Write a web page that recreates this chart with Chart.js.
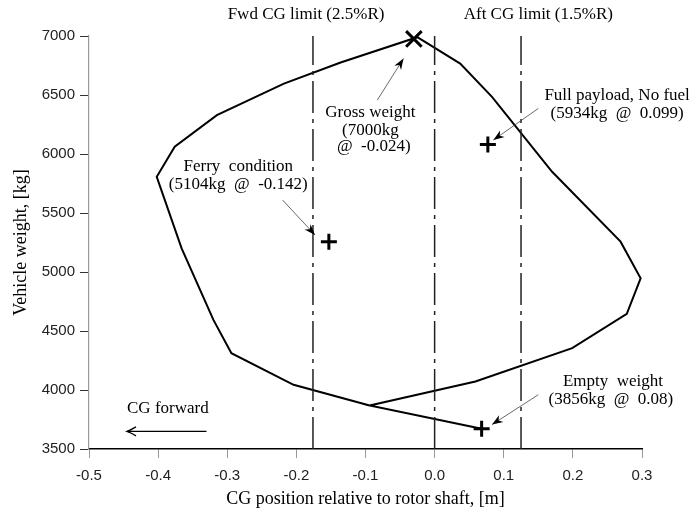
<!DOCTYPE html>
<html>
<head>
<meta charset="utf-8">
<script src="https://cdn.jsdelivr.net/npm/chart.js@4.4.1/dist/chart.umd.min.js"></script>
<style>
  html, body { margin: 0; padding: 0; background: #fff; }
  #wrap { width: 696px; height: 513px; }
</style>
</head>
<body>
<div id="wrap"><canvas id="myChart" width="696" height="513"></canvas></div>
<script>
// envelope of CG position vs weight (polyline, starts at empty weight)
var envX = [0.068, -0.094, 0.059, 0.199, 0.278, 0.298, 0.269, 0.170, 0.083, 0.037, -0.025, -0.136, -0.218, -0.315, -0.376, -0.402, -0.366, -0.320, -0.294, -0.204, -0.094];
var envY = [3672, 3869, 4072, 4355, 4645, 4947, 5257, 5849, 6484, 6766, 6990, 6775, 6597, 6329, 6061, 5807, 5200, 4594, 4312, 4044, 3869];

// marked loading conditions
var grossX = [-0.030];
var grossY = [6975];
var condX = [-0.153, 0.077, 0.068];   // ferry, full payload, empty
var condY = [5257, 6081, 3672];

// CG limit lines
var limitX = [-0.176, 0.0, 0.125];
var limitY = [3500, 7000];

var xTicks = [-0.5, -0.4, -0.3, -0.2, -0.1, 0.0, 0.1, 0.2, 0.3];
var yTicks = [3500, 4000, 4500, 5000, 5500, 6000, 6500, 7000];

function pts(xs, ys) {
    var out = [];
    for (var i = 0; i < xs.length; i++) {
        out.push({x: xs[i], y: ys[i]});
    }
    return out;
}

var datasets = [];
for (var i = 0; i < limitX.length; i++) {
    datasets.push({
        data: [{x: limitX[i], y: limitY[0]}, {x: limitX[i], y: limitY[1]}],
        showLine: true,
        borderColor: '#222',
        borderWidth: 1.5,
        borderDash: [32, 6, 4, 6],
        pointRadius: 0
    });
}
datasets.push({
    data: pts(envX, envY),
    showLine: true,
    borderColor: '#000',
    borderWidth: 2,
    pointRadius: 0,
    tension: 0,
    clip: false
});
datasets.push({
    data: pts(grossX, grossY),
    pointStyle: 'crossRot',
    pointRadius: 11,
    borderColor: '#000',
    borderWidth: 3,
    clip: false
});
datasets.push({
    data: pts(condX, condY),
    pointStyle: 'cross',
    pointRadius: 8,
    borderColor: '#000',
    borderWidth: 3,
    clip: false
});

// text notes, placed in data coordinates
var notes = [
    {x: -0.093, y: 6348, t: 'Gross weight'},
    {x: -0.093, y: 6202, t: '(7000kg'},
    {x: -0.088, y: 6061, t: '@  -0.024)'},
    {x: -0.284, y: 5891, t: 'Ferry  condition'},
    {x: -0.284, y: 5745, t: '(5104kg  @  -0.142)'},
    {x: 0.264, y: 6498, t: 'Full payload, No fuel'},
    {x: 0.264, y: 6343, t: '(5934kg  @  0.099)'},
    {x: 0.258, y: 4072, t: 'Empty  weight'},
    {x: 0.255, y: 3923, t: '(3856kg  @  0.08)'}
];
var arrows = [
    [-0.083, 6456, -0.045, 6809],
    [-0.220, 5610, -0.173, 5314],
    [0.150, 6386, 0.085, 6118],
    [0.150, 3960, 0.083, 3707]
];

function arrowHead(c, x, y, ang, len, half) {
    c.save();
    c.translate(x, y);
    c.rotate(ang);
    c.beginPath();
    c.moveTo(0, 0);
    c.lineTo(-len, -half);
    c.lineTo(-len * 0.7, 0);
    c.lineTo(-len, half);
    c.closePath();
    c.fill();
    c.restore();
}

var notesPlugin = {
    id: 'notes',
    afterDatasetsDraw: function (chart) {
        var c = chart.ctx;
        var sx = chart.scales.x, sy = chart.scales.y;
        var top = chart.chartArea.top;
        c.save();
        c.fillStyle = '#000';
        c.font = '17px "Liberation Serif"';
        c.textAlign = 'center';
        c.textBaseline = 'middle';
        c.fillText('Fwd CG limit (2.5%R)', sx.getPixelForValue(-0.186), top - 21);
        c.fillText('Aft CG limit (1.5%R)', sx.getPixelForValue(0.150), top - 21);
        notes.forEach(function (n) {
            c.fillText(n.t, sx.getPixelForValue(n.x), sy.getPixelForValue(n.y));
        });
        c.textAlign = 'left';
        c.fillText('CG forward', sx.getPixelForValue(-0.445), sy.getPixelForValue(3847));

        // annotation pointers
        c.strokeStyle = '#444';
        c.lineWidth = 0.8;
        arrows.forEach(function (a) {
            var x0 = sx.getPixelForValue(a[0]), y0 = sy.getPixelForValue(a[1]);
            var x1 = sx.getPixelForValue(a[2]), y1 = sy.getPixelForValue(a[3]);
            c.beginPath();
            c.moveTo(x0, y0);
            c.lineTo(x1, y1);
            c.stroke();
            arrowHead(c, x1, y1, Math.atan2(y1 - y0, x1 - x0), 11, 4);
        });

        // CG forward arrow
        var ax0 = sx.getPixelForValue(-0.330), ax1 = sx.getPixelForValue(-0.445);
        var ay = sy.getPixelForValue(3649);
        c.strokeStyle = '#000';
        c.lineWidth = 1.3;
        c.beginPath();
        c.moveTo(ax0, ay);
        c.lineTo(ax1, ay);
        c.stroke();
        c.beginPath();
        c.moveTo(ax1 + 9, ay - 4.5);
        c.quadraticCurveTo(ax1 + 3, ay - 1, ax1, ay);
        c.quadraticCurveTo(ax1 + 3, ay + 1, ax1 + 9, ay + 4.5);
        c.stroke();
        c.restore();
    }
};

var ctx = document.getElementById('myChart').getContext('2d');
var myChart = new Chart(ctx, {
    type: 'scatter',
    data: {datasets: datasets},
    plugins: [notesPlugin],
    options: {
        responsive: false,
        animation: false,
        layout: {padding: {left: 0, right: 54, top: 36, bottom: 0}},
        plugins: {legend: {display: false}, tooltip: {enabled: false}},
        scales: {
            x: {
                type: 'linear',
                min: xTicks[0],
                max: xTicks[xTicks.length - 1],
                afterFit: function (s) { s.height = 64; },
                afterBuildTicks: function (s) { s.ticks = xTicks.map(function (v) { return {value: v}; }); },
                ticks: {
                    callback: function (v) { return (Math.abs(v) < 1e-9 ? 0 : v).toFixed(1); },
                    font: {family: 'Liberation Sans', size: 15},
                    color: '#222',
                    padding: 9,
                    maxRotation: 0
                },
                grid: {drawOnChartArea: false, tickLength: 9, color: '#999'},
                border: {color: '#000', width: 1.5},
                title: {
                    display: true,
                    text: 'CG position relative to rotor shaft, [m]',
                    font: {family: 'Liberation Serif', size: 18},
                    color: '#000',
                    padding: {top: 0, bottom: 3}
                }
            },
            y: {
                min: yTicks[0],
                max: yTicks[yTicks.length - 1],
                afterFit: function (s) { s.width = 89; },
                afterBuildTicks: function (s) { s.ticks = yTicks.map(function (v) { return {value: v}; }); },
                ticks: {
                    callback: function (v) { return String(v); },
                    font: {family: 'Liberation Sans', size: 15},
                    color: '#222',
                    padding: 5
                },
                grid: {drawOnChartArea: false, tickLength: 9, color: '#333'},
                border: {color: '#999', width: 1.2},
                title: {
                    display: true,
                    text: 'Vehicle weight, [kg]',
                    font: {family: 'Liberation Serif', size: 18},
                    color: '#000',
                    padding: {top: 10, bottom: 0}
                }
            }
        }
    }
});
</script>
</body>
</html>
